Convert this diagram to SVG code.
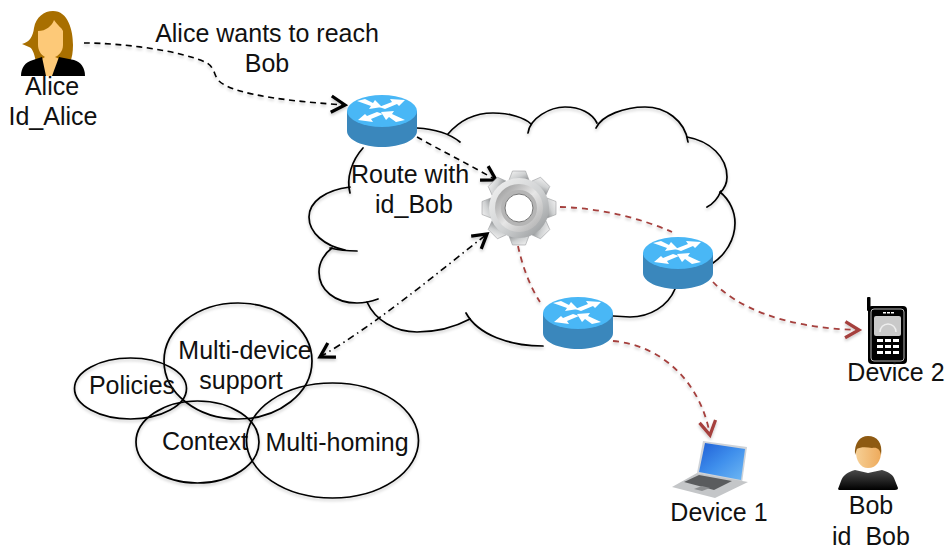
<svg xmlns="http://www.w3.org/2000/svg" xmlns:xlink="http://www.w3.org/1999/xlink" width="946" height="547" viewBox="0 0 946 547">
<style>
text{font-family:"Liberation Sans",Arial,sans-serif;font-size:25px;fill:#111;text-anchor:middle}
.cloud{fill:none;stroke:#000;stroke-width:1.7;stroke-linecap:round}
.bubble{fill:none;stroke:#000;stroke-width:1.7}
.blk{fill:none;stroke:#000;stroke-width:1.6;stroke-dasharray:6 4.5}
.dd{fill:none;stroke:#000;stroke-width:1.6;stroke-dasharray:7 4 1.5 4}
.red{fill:none;stroke:#A5403E;stroke-width:1.8;stroke-dasharray:6 5}
.rarrow{fill:#fff}
</style>
<defs>
<filter id="soft" x="-10%" y="-10%" width="120%" height="125%"><feDropShadow dx="0" dy="2" stdDeviation="1.5" flood-color="#000" flood-opacity="0.22"/></filter>
<marker id="ah" markerUnits="userSpaceOnUse" markerWidth="20" markerHeight="20" refX="13" refY="8" orient="auto-start-reverse" viewBox="0 0 16 16"><path d="M2,1.500 L13,8 L2,14.500" fill="none" stroke="#000" stroke-width="2.6"/></marker>
<marker id="ahr" markerUnits="userSpaceOnUse" markerWidth="20" markerHeight="20" refX="13" refY="8" orient="auto" viewBox="0 0 16 16"><path d="M2,1.500 L13,8 L2,14.500" fill="none" stroke="#A5403E" stroke-width="2.6"/></marker>
<linearGradient id="gearG" x1="0" y1="0" x2="1" y2="1"><stop offset="0" stop-color="#f4f4f4"/><stop offset="0.55" stop-color="#cfd1d2"/><stop offset="1" stop-color="#8f9294"/></linearGradient>
<linearGradient id="ringG" x1="0" y1="0" x2="1" y2="1"><stop offset="0" stop-color="#8d8d8d"/><stop offset="0.5" stop-color="#e6e6e6"/><stop offset="1" stop-color="#a9a9a9"/></linearGradient>
<linearGradient id="screenG" x1="0" y1="0" x2="1" y2="1"><stop offset="0" stop-color="#1f5fd6"/><stop offset="0.5" stop-color="#3f8fec"/><stop offset="1" stop-color="#6fb8f3"/></linearGradient>
<linearGradient id="faceG" x1="0" y1="0" x2="1" y2="0"><stop offset="0" stop-color="#f6cf95"/><stop offset="1" stop-color="#eeaa5b"/></linearGradient>
<linearGradient id="shirtG" x1="0" y1="0" x2="0" y2="1"><stop offset="0" stop-color="#4a4a4a"/><stop offset="1" stop-color="#000"/></linearGradient>
<g id="router">
<path d="M-35,0 V20 C-35,29 -19,36 0,36 C19,36 35,29 35,20 V0 Z" fill="#3A87BC"/>
<ellipse cx="0" cy="0" rx="35" ry="16" fill="#49B7F6"/>
<path class="rarrow" d="M-25,-10 L-17,-12 L-9,-8 L-7,-11 L0,-4 L-13,-2 L-11,-5 Z"/>
<path class="rarrow" d="M23,-11 L8,-12 L10,-9 L-3,-4 L3,-2 L15,-7 L17,-5 Z"/>
<path class="rarrow" d="M-24,9 L-9,11 L-11,8 L1,3 L-5,1 L-15,5 L-17,3 Z"/>
<path class="rarrow" d="M23,9 L14,11 L7,6 L4,9 L-1,1 L12,0 L10,3 Z"/>
</g>
<path id="tooth" d="M-10,-28 L-6.500,-37 L6.500,-37 L10,-28 Z"/>
</defs>
<rect width="946" height="547" fill="#fff"/>

<g id="cloud" filter="url(#soft)">
<path class="cloud" d="M417,128 C435,129 450,134 460,142"/>
<path class="cloud" d="M448,134 C460,120 475,113 493,113 C510,113 525,118 531,124"/>
<path class="cloud" d="M528,133 C530,118 550,107 565,107 C580,107 592,113 597,123"/>
<path class="cloud" d="M596,128 C602,115 625,107 645,107 C665,107 685,120 688,142"/>
<path class="cloud" d="M687,137 C710,141 727,157 727,177 C727,183 724,189 720,193"/>
<path class="cloud" d="M707,207 C713,204 718,198 721,191"/>
<path class="cloud" d="M720,192 C730,200 735,212 735,223 C735,240 725,255 713,263"/>
<path class="cloud" d="M675,289 C668,306 650,317 630,317 L613,316"/>
<path class="cloud" d="M543,346 C510,346 478,335 466,313"/>
<path class="cloud" d="M470,319 C455,327 438,332 417,332 C395,332 375,320 367,302"/>
<path class="cloud" d="M378,299 C370,302 362,303 357,303 C335,303 319,290 319,272 C319,262 325,253 332,248"/>
<path class="cloud" d="M330,248 C338,250 347,251 357,251"/>
<path class="cloud" d="M345,250 C325,246 309,233 309,217 C309,202 325,190 350,187"/>
<path class="cloud" d="M350,193 C346,178 352,160 363,148"/>
</g>

<g id="connectors" filter="url(#soft)">
<path class="blk" marker-end="url(#ah)" d="M84,43 C120,43 180,50 207,63 C215,68 214,76 219,81 C235,96 300,102 345,105"/>
<path class="blk" marker-end="url(#ah)" d="M417,137 C440,150 470,165 496,180"/>
<path class="dd" marker-start="url(#ah)" marker-end="url(#ah)" d="M320,357 C375,325 435,275 487,234"/>
<path class="red" d="M560,207 C600,208 640,218 672,232"/>
<path class="red" d="M518,246 C522,265 530,287 540,302"/>
<path class="red" marker-end="url(#ahr)" d="M713,282 C735,305 780,328 859,330"/>
<path class="red" marker-end="url(#ahr)" d="M613,341 C660,345 700,380 710,435"/>
</g>

<g id="router-1"><use xlink:href="#router" href="#router" x="382" y="111"/></g>
<g id="router-2"><use xlink:href="#router" href="#router" x="678" y="253"/></g>
<g id="router-3"><use xlink:href="#router" href="#router" x="578" y="313"/></g>

<g id="gear" transform="translate(519,208)">
<g fill="url(#gearG)" stroke="#9a9c9e" stroke-width="0.6">
<use xlink:href="#tooth" href="#tooth"/>
<use xlink:href="#tooth" href="#tooth" transform="rotate(45)"/>
<use xlink:href="#tooth" href="#tooth" transform="rotate(90)"/>
<use xlink:href="#tooth" href="#tooth" transform="rotate(135)"/>
<use xlink:href="#tooth" href="#tooth" transform="rotate(180)"/>
<use xlink:href="#tooth" href="#tooth" transform="rotate(225)"/>
<use xlink:href="#tooth" href="#tooth" transform="rotate(270)"/>
<use xlink:href="#tooth" href="#tooth" transform="rotate(315)"/>
<circle r="30" stroke="none"/>
</g>
<circle r="24" fill="url(#ringG)"/>
<circle r="18" fill="#b5b5b5"/>
<circle r="14" fill="#fff" stroke="#777" stroke-width="1"/>
</g>

<g id="alice">
<path d="M53,11 C68,11 73,30 73,45 C73,52 72,58 70,62 L36,62 C34,52 32,48 29,47 L22,44 C30,42 33,36 34,28 C36,17 44,11 53,11 Z" fill="#A86F00"/>
<path d="M38,31 C46,31 52,26 54,20 C58,26 62,28 63,31 V45 C63,52 58,56 55,57 L62,60 L55,76 H45 L40,60 L45,57 C41,55 38,50 38,45 Z" fill="#FDC978"/>
<path d="M42,57 L33,60 C25,62 21,68 21,76 H46 Z" fill="#000"/>
<path d="M59,57 L52,76 H85 C85,68 81,62 74,60 Z" fill="#000"/>
<text x="52" y="95">Alice</text>
<text x="53" y="125">Id_Alice</text>
</g>
<g id="note-alice"><text x="267" y="42">Alice wants to reach</text><text x="267" y="72">Bob</text></g>
<g id="note-route"><text x="410" y="183">Route with</text><text x="414" y="213">id_Bob</text></g>

<g id="multi-device"><ellipse class="bubble" filter="url(#soft)" cx="238" cy="361" rx="74" ry="58"/><text x="245" y="359">Multi-device</text><text x="241" y="389">support</text></g>
<g id="policies"><ellipse class="bubble" filter="url(#soft)" cx="130.500" cy="388.500" rx="56" ry="30.500"/><text x="132" y="394">Policies</text></g>
<g id="context"><ellipse class="bubble" filter="url(#soft)" cx="197.500" cy="442" rx="61.500" ry="41"/><text x="205" y="450">Context</text></g>
<g id="multi-homing"><ellipse class="bubble" filter="url(#soft)" cx="332.500" cy="440.500" rx="86" ry="57.500"/><text x="337" y="451">Multi-homing</text></g>

<g id="device-2">
<rect x="867" y="297" width="3.500" height="14" rx="1" fill="#000"/>
<rect x="868" y="306" width="39" height="58" rx="4" fill="#000"/>
<rect x="871" y="309" width="33" height="52" rx="3" fill="none" stroke="#fff" stroke-width="0.7"/>
<rect x="874" y="316" width="27" height="20" rx="2" fill="#c9c9c9"/>
<path d="M880,332 A8,8 0 0 1 896,332" fill="none" stroke="#eee" stroke-width="1.500"/>
<path d="M883,312h3v1.500h-3zM887,312h3v1.500h-3zM891,312h3v1.500h-3z" fill="#fff"/>
<path d="M877,339h6v3h-6zM885,339h6v3h-6zM893,339h6v3h-6zM877,345h6v3h-6zM885,345h6v3h-6zM893,345h6v3h-6zM877,351h6v3h-6zM885,351h6v3h-6zM893,351h6v3h-6z" fill="#fff"/>
<text x="896" y="381">Device 2</text>
</g>

<g id="device-1">
<path d="M703,441 L747,447 L742,483 L697,473 Z" fill="#cfd3d8"/>
<path d="M705,443 L745,449 L741,480 L699,472 Z" fill="url(#screenG)"/>
<path d="M672,487 L697,473 L748,482 L715,498 Z" fill="#c4c6c8"/>
<path d="M684,482 L699,475 L732,481 L714,490 Z" fill="#5a5c5e"/>
<path d="M694,489 L702,486 L710,488 L702,491 Z" fill="#8c8e90"/>
<text x="719" y="521">Device 1</text>
</g>

<g id="bob">
<path d="M855,470 C848,472 843,475 841,481 L838,489 C838,490 840,490 842,490 H895 C897,490 898,489 898,488 L894,478 C892,474 888,472 882,470 L868,473 Z" fill="url(#shirtG)"/>
<path d="M856,452 C856,443 881,443 881,452 C881,460 877,468 868,468 C860,468 856,460 856,452 Z" fill="url(#faceG)"/>
<path d="M855,455 C854,443 860,436 868,436 C877,436 883,443 881,455 C880,449 877,447 872,448 C866,447 860,447 857,449 Z" fill="#8E5A12"/>
<text x="871" y="514">Bob</text>
<text x="871" y="545">id_Bob</text>
</g>
</svg>
